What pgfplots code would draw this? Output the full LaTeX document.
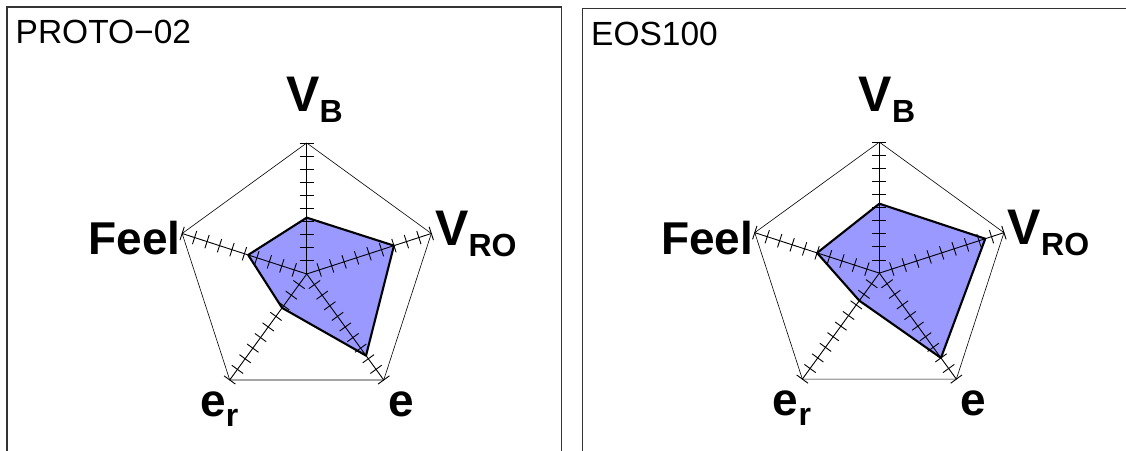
\documentclass[border=0pt]{standalone}
\usepackage{fontspec}
\setmainfont{Liberation Sans}
\usepackage{pgfplots}
\usepackage{pgfplotstable}
\pgfplotsset{compat=1.18}
\definecolor{radarfill}{RGB}{153,153,255}

\pgfplotstableread{
ang r
90 4.3
18 7.0
-54 7.7
-126 3.2
162 4.7
90 4.3
}\protodata
\pgfplotstableread{
ang r
90 5.3
18 8.5
-54 8.0
-126 2.6
162 5.0
90 5.3
}\eosdata
\pgfplotstableread{
ang r
90 10
18 10
-54 10
-126 10
162 10
90 10
}\outerdata

\newcommand\biglab[2]{{\fontsize{50}{50}\selectfont\bfseries #1}\raisebox{-11pt}{\fontsize{32}{32}\selectfont\bfseries #2}}
\newcommand\midlab[2]{{\fontsize{46}{46}\selectfont\bfseries #1}\raisebox{-10pt}{\fontsize{32}{32}\selectfont\bfseries #2}}

\pgfplotsset{
  radarpanel/.style={
    x=13.1pt, y=13.1pt,
    axis lines=box,
    axis line style={black!80, line width=1.2pt},
    xtick=\empty, ytick=\empty,
    anchor=north west,
  },
}

\newcommand\radarcontent[2]{%
  \addplot[black, line width=0.6pt, data cs=polar] table[x=ang,y=r]{\outerdata};
  \addplot[fill=radarfill, draw=none, data cs=polar] table[x=ang,y=r]{#1};
  \pgfplotsinvokeforeach{90,18,-54,-126,162}{
    \addplot[black, line width=0.9pt, mark=|, mark size=7pt,
      mark indices={2,3,4,5,6,7,8,9,10,11},
      mark options={rotate=##1, line width=0.9pt, solid}, data cs=polar]
      coordinates {(##1,0) (##1,1) (##1,2) (##1,3) (##1,4) (##1,5) (##1,6) (##1,7) (##1,8) (##1,9) (##1,10)};
  }
  \addplot[black, line width=2.1pt, line join=round, data cs=polar] table[x=ang,y=r]{#1};
  \node[anchor=base west, inner sep=0] at (axis cs:-1.58,12.37) {\biglab{V}{B}};
  \node[anchor=base west, inner sep=0] at (axis cs:9.79,2.16) {\biglab{V}{RO}};
  \node[anchor=base west, inner sep=0] at (axis cs:-16.67,1.45) {{\fontsize{46}{46}\selectfont\bfseries Feel}};
  \node[anchor=base west, inner sep=0] at (axis cs:-8.14,-10.9) {\midlab{e}{r}};
  \node[anchor=base west, inner sep=0] at (axis cs:6.21,-10.9) {{\fontsize{46}{46}\selectfont\bfseries e}};
  \node[anchor=base west, inner sep=0, xshift=8.5pt, yshift=-36.5pt] at (rel axis cs:0,1) {\fontsize{33.5}{33.5}\selectfont #2};
}

\begin{document}
\begin{tikzpicture}
\useasboundingbox (0,-450pt) rectangle (1126pt,0pt);
\clip (0,-450pt) rectangle (1126pt,0pt);
\begin{axis}[radarpanel, at={(7pt,-7pt)},
  xmin=-22.88, xmax=19.46, ymin=-15.5, ymax=20.38]
  \radarcontent{\protodata}{PROTO−02}
\end{axis}
\begin{axis}[radarpanel, at={(582.5pt,-8.5pt)},
  xmin=-22.66, xmax=21.0, ymin=-15.5, ymax=20.2]
  \radarcontent{\eosdata}{EOS100}
\end{axis}
\end{tikzpicture}
\end{document}
